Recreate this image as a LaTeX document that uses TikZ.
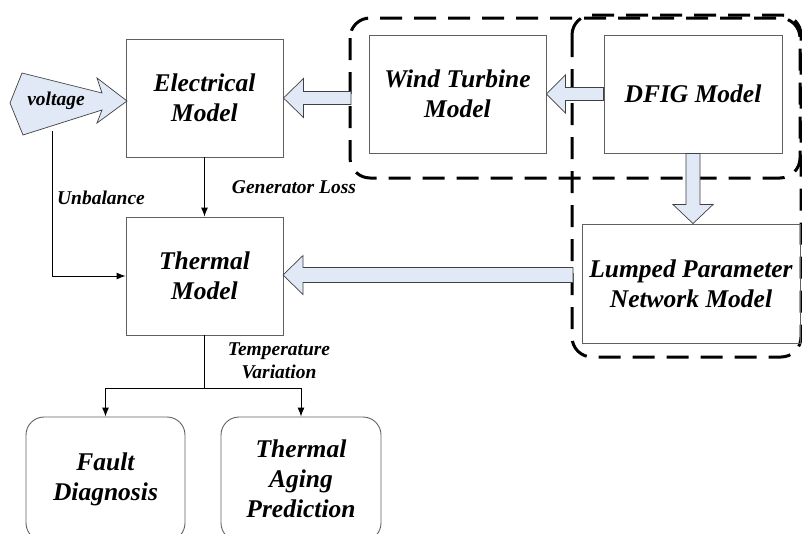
\documentclass[tikz,border=0pt]{standalone}
\usepackage{fontspec}
\setmainfont{Liberation Serif}
\usetikzlibrary{arrows.meta}
\definecolor{fillblue}{HTML}{E0E9F5}
\definecolor{boxline}{HTML}{606060}
\begin{document}
\begin{tikzpicture}[x=1pt,y=-1pt,
  box/.style={draw=boxline, line width=0.9pt, inner sep=0pt, align=center,
    font=\fontsize{25.5}{30}\selectfont\bfseries\itshape},
  rbox/.style={box, rounded corners=18pt},
  lbl/.style={inner sep=0pt, align=center, font=\fontsize{19.5}{23}\selectfont\bfseries\itshape},
  conn/.style={draw=black, line width=0.9pt},
  arr/.style={conn, -{Latex[length=9pt,width=7pt]}},
  harrow/.style={draw=black!75, fill=fillblue, line width=0.7pt, line join=miter},
  dashbox/.style={draw=black, line width=3pt, dash pattern=on 22pt off 12pt, rounded corners=20pt}
]
\useasboundingbox (0,0) rectangle (802,533);

% dashed group frames
\draw[dashbox] (350,18) rectangle (800,178);
\draw[dashbox] (572,15) rectangle (801,357);

% boxes
\node[box, minimum width=157pt, minimum height=118pt] (elec) at (204.5,98) {Electrical\\Model};
\node[box, minimum width=157pt, minimum height=118pt] (thermal) at (204.5,276) {Thermal\\Model};
\node[box, minimum width=177pt, minimum height=118pt] (wt) at (457.5,94) {Wind Turbine\\Model};
\node[box, minimum width=178pt, minimum height=118pt] (dfig) at (693,94) {DFIG Model};
\node[box, minimum width=218pt, minimum height=119pt] (lumped) at (691,283.5) {Lumped Parameter\\Network Model};
\node[rbox, minimum width=159pt, minimum height=124pt] (fault) at (105.5,479) {Fault\\Diagnosis};
\node[rbox, minimum width=160pt, minimum height=124pt] (aging) at (301,479) {Thermal\\Aging\\Prediction};

% voltage input arrow
\draw[harrow] (10,103) -- (22,73) -- (102,93) -- (97,78) -- (127,101) -- (97,123) -- (102,110) -- (23,135) -- cycle;
\node[lbl] (volt) at (56,101) {voltage};
\coordinate (vb) at (52,131);

% hollow block arrows
\coordinate (t1) at (351,98);
\draw[harrow] (elec.east) -- ([xshift=20pt,yshift=19.5pt]elec.east) -- ([xshift=20pt,yshift=6.5pt]elec.east)
  -- ([yshift=6.5pt]t1) -- ([yshift=-6.5pt]t1) -- ([xshift=20pt,yshift=-6.5pt]elec.east)
  -- ([xshift=20pt,yshift=-19.5pt]elec.east) -- cycle;

\draw[harrow] (wt.east) -- ([xshift=19pt,yshift=19pt]wt.east) -- ([xshift=19pt,yshift=6.5pt]wt.east)
  -- ([yshift=6.5pt]dfig.west) -- ([yshift=-6.5pt]dfig.west) -- ([xshift=19pt,yshift=-6.5pt]wt.east)
  -- ([xshift=19pt,yshift=-19pt]wt.east) -- cycle;

\coordinate (t2) at (dfig.south |- lumped.north);
\draw[harrow] (t2) -- ([xshift=-20pt,yshift=19pt]t2) -- ([xshift=-7pt,yshift=19pt]t2)
  -- ([xshift=-7pt]dfig.south) -- ([xshift=7pt]dfig.south) -- ([xshift=7pt,yshift=19pt]t2)
  -- ([xshift=20pt,yshift=19pt]t2) -- cycle;

\coordinate (t3) at (573,275);
\coordinate (h3) at (283,275);
\draw[harrow] (h3) -- ([xshift=20pt,yshift=19.5pt]h3) -- ([xshift=20pt,yshift=7.5pt]h3)
  -- ([yshift=7.5pt]t3) -- ([yshift=-7.5pt]t3) -- ([xshift=20pt,yshift=-7.5pt]h3)
  -- ([xshift=20pt,yshift=-19.5pt]h3) -- cycle;

% connectors
\draw[arr] (elec.south) -- (thermal.north);
\draw[arr] (vb) |- (thermal.west);
\coordinate (split) at (204.5,388);
\draw[conn] (thermal.south) -- (split);
\draw[arr] (split) -| (fault.north);
\draw[arr] (split) -| (aging.north);

% labels
\node[lbl] (gl) at (294,187) {Generator Loss};
\node[lbl] (ub) at (101,198) {Unbalance};
\node[lbl] (tv) at (279,361) {Temperature\\Variation};
\end{tikzpicture}
\end{document}
